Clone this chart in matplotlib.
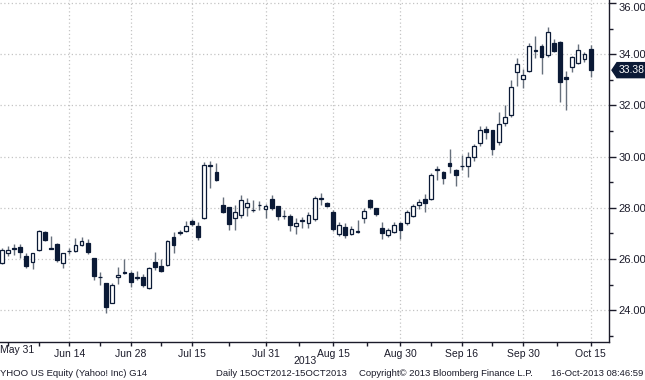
import matplotlib
matplotlib.use("Agg")
import matplotlib.pyplot as plt
from matplotlib.patches import Polygon
import matplotlib.transforms as mtransforms
import numpy as np

# ---------------- data (daily candles, index 0 = May 31 2013) ----------------
day_index = list(range(-1, 96))
opens = [25.85, 26.25, 26.42, 26.49, 26.13, 25.90, 26.36, 27.05, 26.44, 26.60,
         25.83, 26.30, 26.30, 26.55, 26.62, 26.04, 25.30, 25.05, 24.30, 25.28,
         25.48, 25.45, 25.31, 25.31, 24.86, 25.87, 25.73, 25.77, 26.88, 27.02,
         27.10, 27.50, 27.30, 27.60, 29.62, 29.41, 28.11, 28.02, 27.60, 27.72,
         28.05, 27.93, 28.10, 27.95, 28.34, 28.07, 27.70, 27.68, 27.29, 27.50,
         27.42, 27.55, 28.35, 28.20, 27.85, 26.97, 27.27, 26.98, 27.06, 27.60,
         28.31, 27.98, 27.23, 26.94, 27.07, 27.40, 27.40, 27.70, 28.10, 28.35,
         28.35, 29.47, 29.39, 29.74, 29.48, 29.62, 29.64, 30.00, 30.55, 31.08,
         31.04, 30.56, 31.30, 31.63, 33.32, 33.02, 33.36, 34.12, 34.32, 33.97,
         34.45, 34.49, 33.10, 33.52, 33.67, 33.80, 34.20]
highs = [26.45, 26.50, 26.60, 26.58, 26.23, 26.25, 27.15, 27.10, 26.90, 26.62,
         26.25, 26.45, 26.82, 26.88, 26.78, 26.06, 25.48, 25.08, 25.07, 25.70,
         25.99, 25.55, 25.55, 25.40, 25.68, 26.29, 26.00, 26.76, 27.07, 27.15,
         27.50, 27.55, 27.45, 29.78, 29.84, 29.74, 28.44, 28.04, 28.10, 28.50,
         28.38, 28.30, 28.25, 28.15, 28.50, 28.09, 27.90, 27.75, 27.60, 27.65,
         27.82, 28.45, 28.60, 28.22, 27.90, 27.45, 27.40, 27.30, 27.53, 28.00,
         28.35, 28.00, 27.45, 27.20, 27.45, 27.45, 27.90, 28.15, 28.35, 28.55,
         29.35, 29.65, 29.45, 30.29, 29.50, 30.05, 30.20, 30.50, 31.20, 31.20,
         31.06, 31.75, 32.00, 33.00, 33.84, 33.41, 34.45, 34.71, 34.40, 35.08,
         34.60, 34.50, 33.35, 33.95, 34.40, 34.10, 34.35]
lows = [25.80, 26.10, 26.16, 26.03, 25.67, 25.60, 26.30, 26.72, 26.38, 25.90,
        25.64, 26.20, 26.27, 26.52, 26.20, 25.20, 25.00, 23.88, 24.27, 25.03,
        25.42, 24.92, 25.20, 24.90, 24.82, 25.57, 25.50, 25.73, 26.23, 26.95,
        27.05, 27.30, 26.75, 27.55, 28.77, 29.03, 27.79, 27.15, 27.15, 27.62,
        27.70, 27.83, 27.92, 27.60, 27.92, 27.53, 27.55, 27.10, 26.98, 27.20,
        27.20, 27.50, 28.10, 28.05, 27.10, 26.90, 26.84, 26.95, 27.00, 27.40,
        27.95, 27.70, 26.80, 26.85, 27.00, 26.80, 27.35, 27.65, 27.95, 27.83,
        28.30, 29.08, 28.95, 29.35, 28.85, 29.48, 29.20, 29.85, 30.40, 30.70,
        30.07, 30.45, 31.20, 31.55, 32.76, 32.67, 33.30, 33.85, 33.23, 33.90,
        34.10, 32.15, 31.82, 33.30, 33.62, 33.68, 33.10]
closes = [26.35, 26.35, 26.38, 26.27, 25.74, 26.23, 27.10, 26.75, 26.40, 25.97,
          26.22, 26.33, 26.55, 26.70, 26.27, 25.33, 25.28, 24.12, 24.99, 25.36,
          25.45, 25.12, 25.27, 24.99, 25.64, 25.70, 25.55, 26.72, 26.55, 27.07,
          27.30, 27.38, 26.88, 29.68, 29.68, 29.09, 27.85, 27.37, 27.85, 28.31,
          28.18, 27.91, 28.13, 28.08, 27.98, 27.68, 27.68, 27.33, 27.42, 27.53,
          27.72, 28.37, 28.38, 28.07, 27.16, 27.33, 26.94, 27.16, 27.08, 27.89,
          28.02, 27.76, 27.03, 27.14, 27.33, 27.14, 27.83, 28.07, 28.24, 28.18,
          29.28, 29.50, 29.18, 29.65, 29.28, 29.65, 30.00, 30.43, 31.04, 30.98,
          30.29, 31.27, 31.55, 32.74, 33.61, 33.19, 34.32, 34.15, 33.88, 34.88,
          34.14, 32.93, 33.02, 33.88, 34.17, 34.01, 33.38]

tick_index = [0, 10, 20, 30, 42, 53, 64, 74, 84, 95]
tick_labels = ["May 31", "Jun 14", "Jun 28", "Jul 15", "Jul 31",
               "Aug 15", "Aug 30", "Sep 16", "Sep 30", "Oct 15"]
price_ticks = [24, 26, 28, 30, 32, 34, 36]
last_price = 33.38

# ---------------- style ----------------
NAVY = "#0b1a36"
WICK = "#66707c"
GRID = "#c4c4c4"
TXT = "#1b1b2a"
plt.rcParams["font.family"] = ["Liberation Sans", "DejaVu Sans"]
FS_X = 7.5
FS_Y = 8
FS_FOOT = 6.8

fig = plt.figure(figsize=(6.45, 3.8), dpi=100)
fig.patch.set_facecolor("white")
ax = fig.add_axes([0.0, 0.1, 609 / 645, 0.9])

x = np.array(day_index, dtype=float)
o = np.array(opens)
h = np.array(highs)
l = np.array(lows)
c = np.array(closes)

ax.vlines(x, l, h, color=WICK, linewidth=1.0, zorder=2)
up = c >= o
body_lo = np.minimum(o, c)
body_h = np.maximum(np.abs(c - o), 0.015)
ax.bar(x[up], body_h[up], bottom=body_lo[up], width=0.62, color="white",
       edgecolor=NAVY, linewidth=0.9, zorder=3)
ax.bar(x[~up], body_h[~up], bottom=body_lo[~up], width=0.62, color=NAVY,
       edgecolor=NAVY, linewidth=0.9, zorder=3)

ax.set_xlim(-1.3, 98.0)
ax.set_ylim(22.76, 36.12)

# grid
for t in price_ticks:
    ax.axhline(t, color=GRID, linewidth=0.9, linestyle=(0, (1, 2)), zorder=1)
for t in tick_index[1:]:
    ax.axvline(t, color=GRID, linewidth=0.9, linestyle=(0, (1, 2)), zorder=1)

# spines
for s in ["top", "left"]:
    ax.spines[s].set_visible(False)
ax.spines["right"].set_color(TXT)
ax.spines["bottom"].set_color(TXT)
ax.spines["right"].set_linewidth(1.0)
ax.spines["bottom"].set_linewidth(1.0)

# y axis on right
ax.yaxis.tick_right()
ax.set_yticks(price_ticks)
ax.set_yticklabels([f"{t:.2f}" for t in price_ticks])
ax.set_yticks([23, 25, 27, 29, 31, 33, 35], minor=True)
ax.tick_params(axis="y", which="major", direction="out", length=5, width=1,
               color=TXT, labelsize=FS_Y, labelcolor=TXT, pad=2)
ax.tick_params(axis="y", which="minor", direction="out", length=3, width=1,
               color=TXT)
ax.get_yticklabels()[-1].set_va("top")

# x axis
ax.set_xticks(tick_index)
ax.set_xticklabels([""] + tick_labels[1:])
mids = [(a + b) / 2 for a, b in zip(tick_index[:-1], tick_index[1:])]
ax.set_xticks(mids, minor=True)
ax.tick_params(axis="x", which="major", direction="out", length=3, width=1,
               color=TXT, labelsize=FS_X, labelcolor=TXT, pad=2)
ax.tick_params(axis="x", which="minor", direction="out", length=3, width=1,
               color=TXT)
fig.text(0.0, 1 - 350 / 380, tick_labels[0], ha="left", va="center",
         fontsize=FS_X, color=TXT)

# last price tag
trans = mtransforms.blended_transform_factory(ax.transAxes, ax.transData)
hh = 7.5 / (ax.get_position().height * 380) * (36.12 - 22.76)
x0 = 1 + 3 / 609
x1 = 1 + 8 / 609
x2 = 1 + 36 / 609
tag = Polygon([[x0, last_price], [x1, last_price + hh], [x2, last_price + hh],
               [x2, last_price - hh], [x1, last_price - hh]],
              closed=True, transform=trans, facecolor=NAVY, edgecolor=NAVY,
              clip_on=False, zorder=5)
ax.add_patch(tag)
ax.text(1 + 22.5 / 609, last_price, f"{last_price:.2f}", transform=trans,
        ha="center", va="center", fontsize=7.5, color="white", zorder=6,
        clip_on=False)

# footer texts
fig.text(305 / 645, 1 - 361 / 380, "2013", ha="center", va="center",
         fontsize=FS_X, color=TXT)
yf = 1 - 373 / 380
fig.text(0.0, yf, "YHOO US Equity (Yahoo! Inc) G14", ha="left", va="center",
         fontsize=FS_FOOT, color=TXT)
fig.text(281 / 645, yf, "Daily 15OCT2012-15OCT2013", ha="center", va="center",
         fontsize=FS_FOOT, color=TXT)
fig.text(446 / 645, yf, "Copyright\u00a9 2013 Bloomberg Finance L.P.",
         ha="center", va="center", fontsize=FS_FOOT, color=TXT)
fig.text(643 / 645, yf, "16-Oct-2013 08:46:59", ha="right", va="center",
         fontsize=FS_FOOT, color=TXT)

fig.savefig("out.png", dpi=100, facecolor="white")
